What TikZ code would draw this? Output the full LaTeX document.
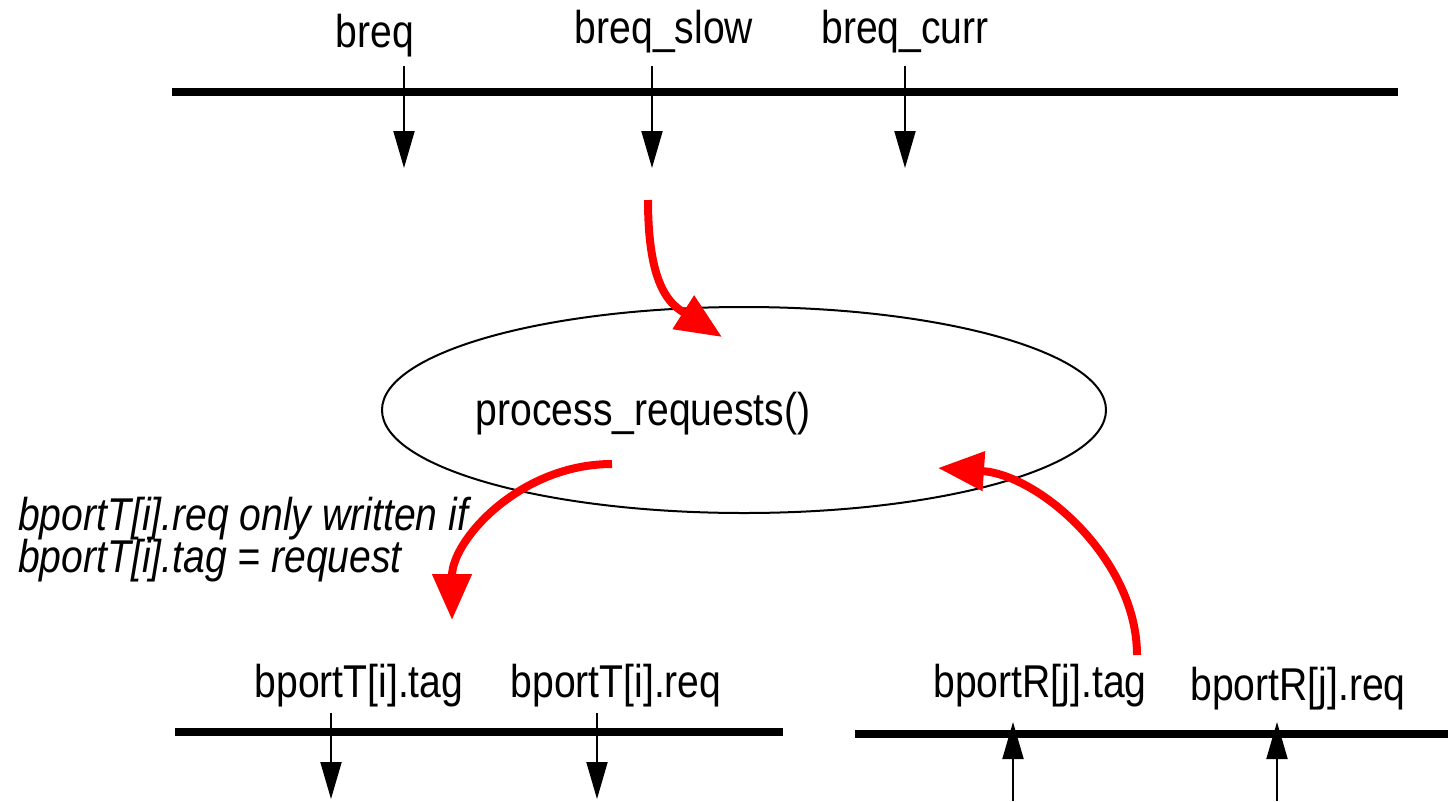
\documentclass[tikz,border=0pt]{standalone}
\usepackage{fontspec}
\setmainfont{Liberation Sans}[FakeStretch=0.85]
\usetikzlibrary{arrows.meta}
\usetikzlibrary{positioning}
\usetikzlibrary{shapes.geometric}

\begin{document}
\begin{tikzpicture}[x=1pt,y=-1pt]
\tikzset{
  bus/.style={line width=7.5pt},
  sig/.style={line width=2pt,-{Triangle[length=37pt,width=21pt]}},
  flow/.style={red,line width=8pt,-{Triangle[length=46pt,width=38pt]}},
  lbl/.style={font=\fontsize{46}{50}\selectfont,anchor=base,inner sep=0pt},
  note/.style={lbl,font=\fontsize{46}{50}\selectfont\itshape,anchor=base west}
}
\useasboundingbox (0,0) rectangle (1448,801);

% request buffers
\draw[bus] (172,92) coordinate(top0) -- (1398,92) coordinate(top1);
\foreach \n/\x/\lx/\ly/\t in {breq/404/375/47/breq, slow/652/664/43/breq\_slow, curr/905/905/43/breq\_curr} {
\path (\lx,\ly) node[lbl] (\n) {\t};
\coordinate (\n s) at (\x,66);
\coordinate (\n e) at (\x,168);
\draw[sig] (\n s) -- (\n e);
}

% the routine
\node[draw,ellipse,line width=2pt,minimum width=724pt,minimum height=206pt,inner sep=0pt] (proc) at (744,410) {};
\path (643,425) node[lbl] (procname) {process\_requests()};

\coordinate (r1s) at (648,200);
\coordinate (r1e) at (722,337);
\draw[flow] (r1s) .. controls (648,290) and (672,305) .. (r1e);

\coordinate (r2s) at (612,464);
\coordinate (r2e) at (452,620);
\draw[flow] (r2s) .. controls (520,464) and (452,540) .. (r2e);

\coordinate (r3s) at (1137,655);
\coordinate (r3e) at (938,468);
\draw[flow] (r3s) .. controls (1137,560) and (1040,475) .. (r3e);

\path (18,530) node[note] (cond1) {bportT[i].req only written if};
\path (18,572) node[note] (cond2) {bportT[i].tag = request};

% transmit port
\draw[bus] (175,732) coordinate(tx0) -- (783,732) coordinate(tx1);
\foreach \n/\x/\lx/\t in {ttag/331/359/bportT[i].tag, treq/597/616/bportT[i].req} {
\path (\lx,697) node[lbl] (\n) {\t};
\coordinate (\n s) at (\x,713);
\coordinate (\n e) at (\x,799);
\draw[sig] (\n s) -- (\n e);
}

% receive port
\draw[bus] (855,734) coordinate(rx0) -- (1448,734) coordinate(rx1);
\foreach \n/\x/\lx/\ly/\t in {rtag/1013/1040/697/bportR[j].tag, rreq/1277/1298/700/bportR[j].req} {
\path (\lx,\ly) node[lbl] (\n) {\t};
\coordinate (\n s) at (\x,801);
\coordinate (\n e) at (\x,722);
\draw[sig] (\n s) -- (\n e);
}

\end{tikzpicture}
\end{document}
